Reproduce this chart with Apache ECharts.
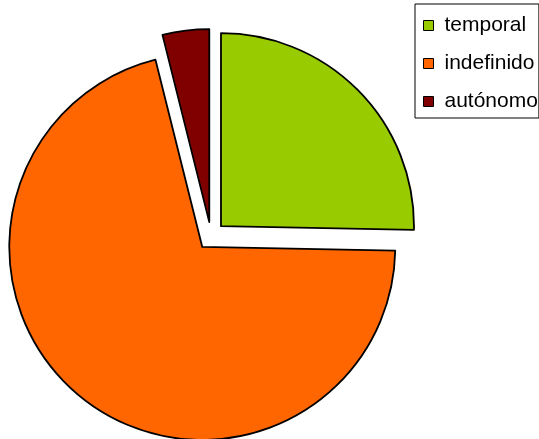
<!DOCTYPE html>
<html>
<head>
<meta charset="utf-8">
<script src="https://cdn.jsdelivr.net/npm/echarts@6/dist/echarts.min.js"></script>
<style>
html,body{margin:0;padding:0;background:#fff;}
#chart{width:539px;height:439px;}
</style>
</head>
<body>
<div id="chart"></div>
<script>
var categories = ['temporal', 'indefinido', 'autónomo'];
var values = [25.3, 70.8, 3.9];
var colors = ['#99cc00', '#ff6600', '#800000'];

var chart = echarts.init(document.getElementById('chart'), null, {renderer: 'canvas'});
var data = categories.map(function (c, i) {
  var st = {color: colors[i], borderColor: '#000', borderWidth: 1.8};
  return {name: c, value: values[i], selected: true, itemStyle: st, select: {itemStyle: st}};
});
chart.setOption({
  animation: false,
  backgroundColor: '#fff',
  legend: {
    orient: 'vertical',
    left: 415,
    top: 4,
    padding: [11, 1, 6, 8],
    borderColor: '#000',
    borderWidth: 1,
    itemWidth: 10,
    itemHeight: 10,
    itemGap: 17,
    icon: 'rect',
    selectedMode: false,
    itemStyle: {borderColor: '#000', borderWidth: 1},
    textStyle: {fontFamily: 'Liberation Sans, Arial, sans-serif', fontSize: 21, lineHeight: 21, color: '#000', padding: [0, 0, 0, 6]},
    data: categories
  },
  series: [{
    type: 'pie',
    center: [211, 236],
    radius: 193,
    startAngle: 90,
    clockwise: true,
    selectedMode: 'multiple',
    selectedOffset: 14,
    label: {show: false},
    labelLine: {show: false},
    emphasis: {disabled: true},
    data: data
  }]
});
</script>
</body>
</html>
